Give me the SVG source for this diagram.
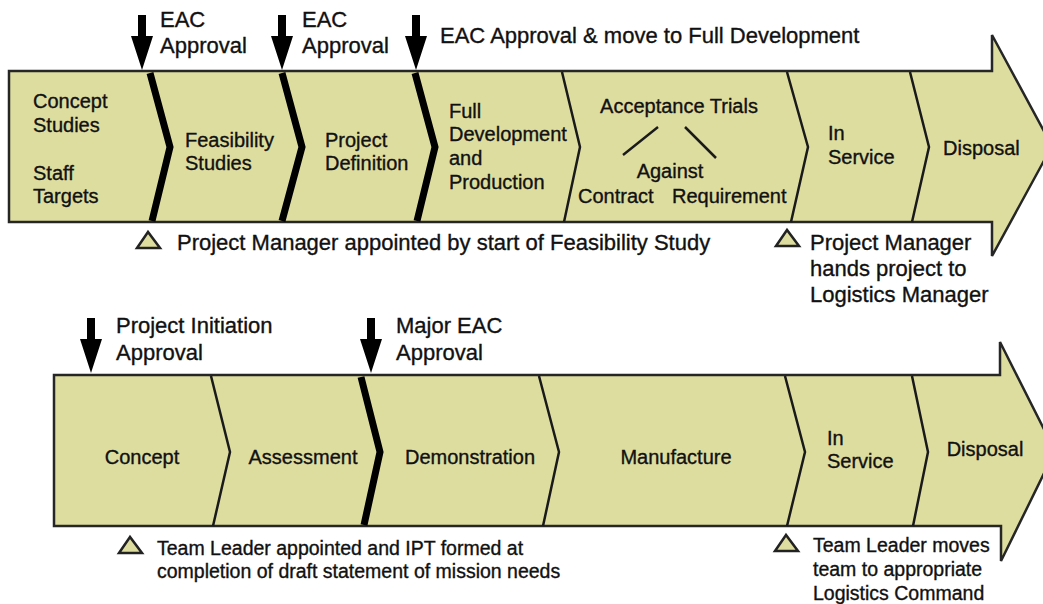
<svg xmlns="http://www.w3.org/2000/svg" width="1043" height="604" viewBox="0 0 1043 604">
<defs>
<style>
text{font-family:"Liberation Sans",Arial,sans-serif;fill:#111;stroke:#111;stroke-width:0.35;}
.lbl{font-size:22px;}
.lbs{font-size:19.5px;}
.box{font-size:20px;}
.mid{text-anchor:middle;}
.body{fill:#dedda0;stroke:#262626;stroke-width:2.5;stroke-linejoin:miter;}
.thick{fill:none;stroke:#000;stroke-width:7;stroke-linejoin:miter;}
.thin{fill:none;stroke:#1a1a1a;stroke-width:2.5;stroke-linejoin:miter;}
.tri{fill:#dedda0;stroke:#222;stroke-width:2.5;stroke-linejoin:miter;}
.dl{stroke:#1a1a1a;stroke-width:2.5;}
</style>
<path id="dn" d="M-4,0 H4 V21 H11 L0,55 L-11,21 H-4 Z" fill="#000"/>
</defs>

<g id="top-arrow">
<path class="body" d="M9,71 L992,71 L992,35 L1052,146 L992,256 L992,222 L9,222 Z"/>
</g>
<g id="bottom-arrow">
<path class="body" d="M54,375 L1000,375 L1000,342 L1055,451 L1001,561 L1001,526 L54,526 Z"/>
</g>

<g id="connectors">
<polyline class="thick" points="150,73 170,147 152,221"/>
<polyline class="thick" points="282,73 302,147 282,221"/>
<polyline class="thick" points="415,73 435,147 417,221"/>
<polyline class="thin" points="562,72 580,147 564,222"/>
<polyline class="thin" points="787,72 808,147 791,222"/>
<polyline class="thin" points="910,72 929,147 912,222"/>
<polyline class="thin" points="211,376 230,452 213,526"/>
<polyline class="thick" points="361,377 380,452 364,525"/>
<polyline class="thin" points="539,376 559,452 543,526"/>
<polyline class="thin" points="785,376 805,452 787,526"/>
<polyline class="thin" points="912,376 928,452 913,526"/>
<line class="dl" x1="623" y1="155" x2="658" y2="127"/>
<line class="dl" x1="685" y1="127" x2="716" y2="158"/>
</g>

<g id="stage-concept-studies">
<text class="box" x="33" y="108">Concept</text>
<text class="box" x="33" y="132">Studies</text>
<text class="box" x="33" y="180">Staff</text>
<text class="box" x="33" y="203">Targets</text>
</g>
<g id="stage-feasibility">
<text class="box" x="185" y="147">Feasibility</text>
<text class="box" x="185" y="170">Studies</text>
</g>
<g id="stage-project-definition">
<text class="box" x="325" y="147">Project</text>
<text class="box" x="325" y="170">Definition</text>
</g>
<g id="stage-full-development">
<text class="box" x="449" y="118">Full</text>
<text class="box" x="449" y="141">Development</text>
<text class="box" x="449" y="165">and</text>
<text class="box" x="449" y="189">Production</text>
</g>
<g id="stage-acceptance">
<text class="box mid" x="679" y="113" font-size="19">Acceptance Trials</text>
<text class="box mid" x="670" y="178">Against</text>
<text class="box" x="578" y="203">Contract</text>
<text class="box" x="672" y="203" font-size="19">Requirement</text>
</g>
<g id="stage-in-service-top">
<text class="box" x="828" y="140">In</text>
<text class="box" x="828" y="164">Service</text>
</g>
<g id="stage-disposal-top">
<text class="box" x="943" y="155">Disposal</text>
</g>

<g id="stage-concept">
<text class="box mid" x="142" y="464">Concept</text>
</g>
<g id="stage-assessment">
<text class="box mid" x="303" y="464">Assessment</text>
</g>
<g id="stage-demonstration">
<text class="box mid" x="470" y="464" font-size="19.3">Demonstration</text>
</g>
<g id="stage-manufacture">
<text class="box mid" x="676" y="464" font-size="19.2">Manufacture</text>
</g>
<g id="stage-in-service-bottom">
<text class="box" x="827" y="445">In</text>
<text class="box" x="827" y="468">Service</text>
</g>
<g id="stage-disposal-bottom">
<text class="box mid" x="985" y="456">Disposal</text>
</g>

<g id="milestone-eac-1">
<use href="#dn" x="142" y="15"/>
<text class="lbl" x="160" y="27">EAC</text>
<text class="lbl" x="160" y="53">Approval</text>
</g>
<g id="milestone-eac-2">
<use href="#dn" x="282" y="15"/>
<text class="lbl" x="302" y="27">EAC</text>
<text class="lbl" x="302" y="53">Approval</text>
</g>
<g id="milestone-eac-3">
<use href="#dn" x="416" y="15"/>
<text class="lbl" x="440" y="43">EAC Approval &amp; move to Full Development</text>
</g>
<g id="milestone-pm-appointed">
<polygon class="tri" points="148,232 137,248 160,248"/>
<text class="lbl" x="177" y="250">Project Manager appointed by start of Feasibility Study</text>
</g>
<g id="milestone-pm-hands">
<polygon class="tri" points="787,230 776,246 799,246"/>
<text class="lbl" x="810" y="250" font-size="22.8">Project Manager</text>
<text class="lbl" x="810" y="276" font-size="22.8">hands project to</text>
<text class="lbl" x="810" y="302" font-size="22.8">Logistics Manager</text>
</g>

<g id="milestone-initiation">
<use href="#dn" x="91" y="318"/>
<text class="lbl" x="116" y="333">Project Initiation</text>
<text class="lbl" x="116" y="360">Approval</text>
</g>
<g id="milestone-major-eac">
<use href="#dn" x="371" y="318"/>
<text class="lbl" x="396" y="333">Major EAC</text>
<text class="lbl" x="396" y="360">Approval</text>
</g>
<g id="milestone-team-leader">
<polygon class="tri" points="130,537 119,553 142,553"/>
<text class="lbs" x="157" y="555">Team Leader appointed and IPT formed at</text>
<text class="lbs" x="157" y="578">completion of draft statement of mission needs</text>
</g>
<g id="milestone-team-moves">
<polygon class="tri" points="786,535 775,551 798,551"/>
<text class="lbs" x="813" y="552" font-size="19">Team Leader moves</text>
<text class="lbs" x="813" y="576" font-size="19">team to appropriate</text>
<text class="lbs" x="813" y="600" font-size="19">Logistics Command</text>
</g>
</svg>
